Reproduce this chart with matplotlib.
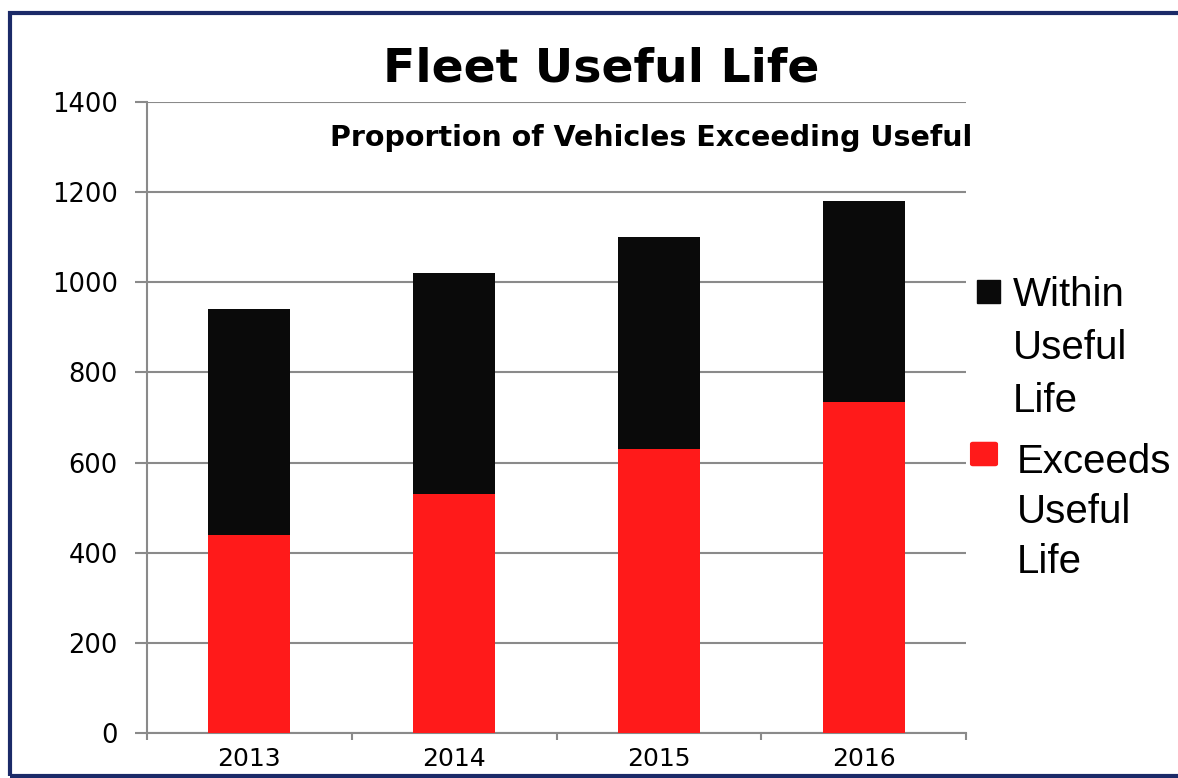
import matplotlib
matplotlib.use('Agg')
import matplotlib.pyplot as plt
from matplotlib.patches import Rectangle, FancyBboxPatch

# data
years = ['2013', '2014', '2015', '2016']
exceeds = [440, 530, 630, 735]
within = [500, 490, 470, 445]
y_ticks = [0, 200, 400, 600, 800, 1000, 1200, 1400]

W, H = 1178, 778

def px(x, y):
    # pixel position -> figure fraction
    return x / W, 1 - y / H

fig = plt.figure(figsize=(W / 100, H / 100), dpi=100)
fig.patch.set_facecolor('white')

ax = fig.add_axes([147 / W, 1 - 733 / H, (966 - 147) / W, (733 - 102) / H])
grey = '#8a8a8a'

xs = range(len(years))
ax.bar(xs, exceeds, width=0.4, color='#ff1a1a', zorder=3)
ax.bar(xs, within, width=0.4, bottom=exceeds, color='#0a0a0a', zorder=3)

ax.set_xlim(-0.5, len(years) - 0.5)
ax.set_ylim(0, 1400)
ax.set_yticks(y_ticks)
ax.set_xticks(list(xs))
ax.set_xticklabels(years)
ax.set_xticks([i - 0.5 for i in range(len(years) + 1)], minor=True)

ax.yaxis.grid(True, color=grey, lw=1.5, zorder=0)
ax.set_axisbelow(True)
for s in ['top', 'right']:
    ax.spines[s].set_visible(False)
for s in ['left', 'bottom']:
    ax.spines[s].set_color(grey)
    ax.spines[s].set_linewidth(1.5)

ax.tick_params(axis='y', length=9, width=1.5, color=grey, labelsize=18.5, pad=12)
ax.tick_params(axis='x', which='major', length=0, labelsize=18, pad=10)
ax.tick_params(axis='x', which='minor', length=5, width=1.5, color=grey)

# titles
fig.text(*px(601, 81), 'Fleet Useful Life', ha='center', va='baseline',
         fontsize=34, fontweight='bold', family='DejaVu Sans')
fig.text(*px(651, 146), 'Proportion of Vehicles Exceeding Useful', ha='center',
         va='baseline', fontsize=20.5, fontweight='bold', family='DejaVu Sans')

# legend
leg_labels = [['Within', 'Useful', 'Life'], ['Exceeds', 'Useful', 'Life']]
leg_colors = ['#0a0a0a', '#ff1a1a']
leg_x = [1013, 1017]
leg_base = [306, 473]
leg_step = [53, 50]
for lines, x0, y0, st in zip(leg_labels, leg_x, leg_base, leg_step):
    for k, line in enumerate(lines):
        fig.text(*px(x0, y0 + k * st), line, ha='left', va='baseline',
                 fontsize=29, family='Liberation Sans')

fig.add_artist(Rectangle(px(977, 303), 23 / W, 23 / H, transform=fig.transFigure,
                         color=leg_colors[0]))
fig.add_artist(FancyBboxPatch(px(973, 464), 22 / W, 20 / H, transform=fig.transFigure,
                              boxstyle='round,pad=0.002', color=leg_colors[1]))

# navy border
fig.add_artist(Rectangle(px(10, 776), 1200 / W, (776 - 13) / H, transform=fig.transFigure,
                         fill=False, ec='#1b2a68', lw=3))

fig.savefig('out.png', dpi=100)
